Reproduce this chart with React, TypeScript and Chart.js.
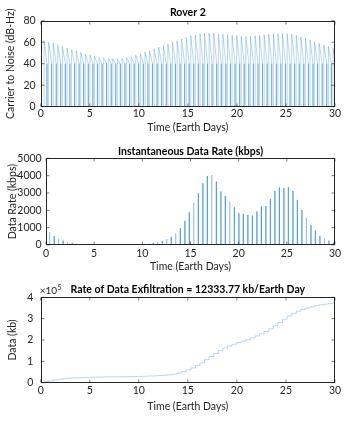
import React, { useEffect, useRef } from "react";
import { Chart, registerables } from "chart.js";

Chart.register(...registerables);

// ---------- data ----------
const passTimes = [
  0.34, 0.81, 1.28, 1.74, 2.21, 2.68, 3.15, 3.61, 4.08, 4.55,
  5.02, 5.48, 5.95, 6.42, 6.89, 7.35, 7.82, 8.29, 8.76, 9.22,
  9.69, 10.16, 10.63, 11.09, 11.56, 12.03, 12.5, 12.96, 13.43, 13.9,
  14.37, 14.83, 15.3, 15.77, 16.24, 16.7, 17.17, 17.64, 18.11, 18.57,
  19.04, 19.51, 19.98, 20.44, 20.91, 21.38, 21.85, 22.31, 22.78, 23.25,
  23.72, 24.18, 24.65, 25.12, 25.59, 26.05, 26.52, 26.99, 27.46, 27.92,
  28.39, 28.86, 29.33, 29.79,
];

const carrierToNoise = [
  61.5, 60, 59, 57.5, 56, 54.5, 53, 52, 50.5, 49,
  48, 47, 46, 45.5, 45, 44.5, 44.5, 45, 45.5, 46.5,
  48, 49.5, 51, 52, 54, 55.5, 57, 58.5, 60, 61.5,
  63, 64.5, 66, 67, 68, 68.5, 68.5, 68.5, 68, 67.5,
  67, 66.5, 66, 65.5, 65.5, 65.5, 66, 66.5, 67, 67.5,
  68, 68, 68, 68, 67.5, 66.5, 65, 63.5, 62, 60.5,
  59, 57.5, 56, 54.5,
];

const dataRate = [
  740, 510, 370, 240, 160, 110, 75, 55, 40, 30,
  22, 18, 15, 12, 12, 12, 12, 14, 18, 25,
  40, 60, 80, 120, 170, 230, 350, 470, 680, 960,
  1380, 1880, 2440, 2980, 3560, 3980, 4040, 3650, 3080, 2830,
  2500, 2170, 1830, 1790, 1730, 1700, 1920, 2210, 2250, 2650,
  3115, 3310, 3270, 3330, 3115, 2600, 2020, 1580, 1150, 830,
  520, 385, 250, 150,
];

const cumulativeData = [
  5000, 9000, 13000, 16000, 19000, 21000, 22500, 23500, 24500, 25000,
  25500, 26000, 26500, 27000, 27200, 27500, 27700, 28000, 28300, 28700,
  29200, 29800, 30500, 31300, 32200, 33500, 35000, 37000, 40000, 45000,
  52000, 60000, 69000, 80000, 93000, 108000, 123000, 137000, 150000, 162000,
  172000, 180000, 188000, 195000, 202000, 210000, 219000, 229000, 240000, 253000,
  267000, 282000, 297000, 312000, 325000, 335000, 343000, 350000, 356000, 361000,
  365000, 368000, 371000, 375000,
];

const xTicks = [0, 5, 10, 15, 20, 25, 30];
const cnTicks = [0, 20, 40, 60, 80];
const rateTicks = [0, 1000, 2000, 3000, 4000, 5000];
const dataTicks = [0, 100000, 200000, 300000, 400000];

const CN_FLOOR = 40; // dB-Hz where each pass ends
const PASS_FADE = 0.3; // days from pass peak to loss of signal
const RATE_SPAN = 0.06; // days, width of each rate burst
const DAYS_END = 30;

const FONT = "Lato";
const INK = "#262626";
const FS = 10.5;

// ---------- series built from the arrays ----------
const cnPoints: { x: number; y: number }[] = [{ x: 0, y: 0 }];
passTimes.forEach((t, i) => {
  cnPoints.push({ x: t, y: 0 }, { x: t, y: carrierToNoise[i] }, { x: t + PASS_FADE, y: CN_FLOOR }, { x: t + PASS_FADE, y: 0 });
});

const ratePoints: { x: number; y: number }[] = [{ x: 0, y: 0 }];
passTimes.forEach((t, i) => {
  ratePoints.push({ x: t, y: 0 }, { x: t, y: dataRate[i] }, { x: t + RATE_SPAN, y: dataRate[i] }, { x: t + RATE_SPAN, y: 0 });
});
ratePoints.push({ x: DAYS_END, y: 0 });

const cumPoints: { x: number; y: number }[] = [{ x: 0, y: 0 }];
passTimes.forEach((t, i) => cumPoints.push({ x: t, y: cumulativeData[i] }));
cumPoints.push({ x: DAYS_END, y: cumulativeData[cumulativeData.length - 1] });

// ---------- MATLAB-like box with inward ticks ----------
const matlabAxes = {
  id: "matlabAxes",
  afterDraw(chart: any) {
    const { ctx, chartArea: a, scales } = chart;
    ctx.save();
    ctx.strokeStyle = INK;
    ctx.lineWidth = 1;
    const L = Math.round(a.left) + 0.5;
    const R = Math.round(a.right) - 0.5;
    const T = Math.round(a.top) + 0.5;
    const B = Math.round(a.bottom) - 0.5;
    ctx.strokeRect(L, T, R - L, B - T);
    const tl = 3;
    ctx.lineWidth = 0.6;
    ctx.beginPath();
    scales.x.ticks.forEach((tk: any) => {
      const px = scales.x.getPixelForValue(tk.value);
      ctx.moveTo(px, B);
      ctx.lineTo(px, B - tl);
      ctx.moveTo(px, T);
      ctx.lineTo(px, T + tl);
    });
    scales.y.ticks.forEach((tk: any) => {
      const py = scales.y.getPixelForValue(tk.value);
      ctx.moveTo(L, py);
      ctx.lineTo(L + tl, py);
      ctx.moveTo(R, py);
      ctx.lineTo(R - tl, py);
    });
    ctx.stroke();
    const ex = chart.options.plugins.matlabAxes?.exponent;
    if (ex) {
      ctx.fillStyle = INK;
      ctx.textBaseline = "middle";
      ctx.textAlign = "left";
      ctx.font = `10px ${FONT}`;
      ctx.fillText("×10", a.left - 1, a.top - 6.5);
      const w = ctx.measureText("×10").width;
      ctx.font = `7px ${FONT}`;
      ctx.fillText(ex, a.left - 1 + w + 0.5, a.top - 10);
    }
    ctx.restore();
  },
};

type Spec = {
  height: number;
  title: string;
  titlePad: { top: number; bottom: number };
  yTitle: string;
  yTitlePad: number;
  yWidth: number;
  yTickPad: number;
  yMax: number;
  yTicks: number[];
  yFormat: (v: number) => string;
  xHeight: number;
  xTickPad: number;
  xTitlePad: number;
  points: { x: number; y: number }[];
  stepped?: any;
  color: string;
  width: number;
  exponent?: string;
};

function makeConfig(s: Spec): any {
  return {
    type: "line",
    data: {
      datasets: [
        {
          data: s.points,
          borderColor: s.color,
          borderWidth: s.width,
          pointRadius: 0,
          fill: false,
          tension: 0,
          stepped: s.stepped ?? false,
        },
      ],
    },
    options: {
      responsive: false,
      animation: false,
      events: [],
      layout: { padding: { left: 0, right: 15, top: 0, bottom: 0 } },
      plugins: {
        legend: { display: false },
        tooltip: { enabled: false },
        title: {
          display: true,
          text: s.title,
          fullSize: false,
          color: "#000",
          font: { family: FONT, size: FS, weight: "bold" },
          padding: s.titlePad,
        },
        matlabAxes: { exponent: s.exponent },
      },
      scales: {
        x: {
          type: "linear",
          min: 0,
          max: DAYS_END,
          afterBuildTicks: (sc: any) => {
            sc.ticks = xTicks.map((v) => ({ value: v }));
          },
          afterFit: (sc: any) => {
            sc.height = s.xHeight;
          },
          grid: { display: false, drawTicks: false },
          border: { display: false },
          ticks: {
            color: INK,
            padding: s.xTickPad,
            maxRotation: 0,
            font: { family: FONT, size: FS },
            callback: (v: number) => String(v),
          },
          title: {
            display: true,
            text: "Time (Earth Days)",
            color: INK,
            font: { family: FONT, size: FS },
            padding: { top: 0, bottom: s.xTitlePad },
          },
        },
        y: {
          type: "linear",
          min: 0,
          max: s.yMax,
          afterBuildTicks: (sc: any) => {
            sc.ticks = s.yTicks.map((v) => ({ value: v }));
          },
          afterFit: (sc: any) => {
            sc.width = s.yWidth;
          },
          grid: { display: false, drawTicks: false },
          border: { display: false },
          ticks: {
            color: INK,
            padding: s.yTickPad,
            font: { family: FONT, size: FS },
            callback: (v: number) => s.yFormat(v),
          },
          title: {
            display: true,
            text: s.yTitle,
            color: INK,
            font: { family: FONT, size: FS },
            padding: { top: s.yTitlePad, bottom: 0 },
          },
        },
      },
    },
    plugins: [matlabAxes],
  };
}

const specs: Spec[] = [
  {
    height: 140,
    title: "Rover 2",
    titlePad: { top: 6.2, bottom: 1.9 },
    yTitle: "Carrier to Noise (dB-Hz)",
    yTitlePad: 4.7,
    yWidth: 40.7,
    yTickPad: 5,
    yMax: 80,
    yTicks: cnTicks,
    yFormat: (v) => String(v),
    xHeight: 33.3,
    xTickPad: 0.7,
    xTitlePad: 5.7,
    points: cnPoints,
    color: "rgba(0,114,189,0.55)",
    width: 0.5,
  },
  {
    height: 140,
    title: "Instantaneous Data Rate (kbps)",
    titlePad: { top: 5.4, bottom: 0.3 },
    yTitle: "Data Rate (kbps)",
    yTitlePad: 6.7,
    yWidth: 46,
    yTickPad: 4.3,
    yMax: 5000,
    yTicks: rateTicks,
    yFormat: (v) => String(v),
    xHeight: 35,
    xTickPad: 2,
    xTitlePad: 7.5,
    points: ratePoints,
    color: "rgba(0,114,189,0.55)",
    width: 0.5,
  },
  {
    height: 144,
    title: "Rate of Data Exfiltration = 12333.77 kb/Earth Day",
    titlePad: { top: 3.7, bottom: 1 },
    yTitle: "Data (kb)",
    yTitlePad: 6.7,
    yWidth: 40.7,
    yTickPad: 7.4,
    yMax: 400000,
    yTicks: dataTicks,
    yFormat: (v) => String(v / 100000),
    xHeight: 41.3,
    xTickPad: 1.3,
    xTitlePad: 11,
    points: cumPoints,
    stepped: "before",
    color: "rgba(0,114,189,0.45)",
    width: 0.6,
    exponent: "5",
  },
];

const tops = [0, 140, 280];

function Panel({ spec, top }: { spec: Spec; top: number }) {
  const ref = useRef<HTMLCanvasElement | null>(null);
  useEffect(() => {
    if (!ref.current) return;
    const chart = new Chart(ref.current, makeConfig(spec));
    return () => chart.destroy();
  }, [spec]);
  return (
    <canvas
      ref={ref}
      width={350}
      height={spec.height}
      style={{ position: "absolute", left: 0, top, width: 350, height: spec.height }}
    />
  );
}

export default function App() {
  return (
    <div style={{ position: "absolute", left: 0, top: 0, width: 350, height: 424, background: "#fff" }}>
      {specs.map((s, i) => (
        <Panel key={i} spec={s} top={tops[i]} />
      ))}
    </div>
  );
}
